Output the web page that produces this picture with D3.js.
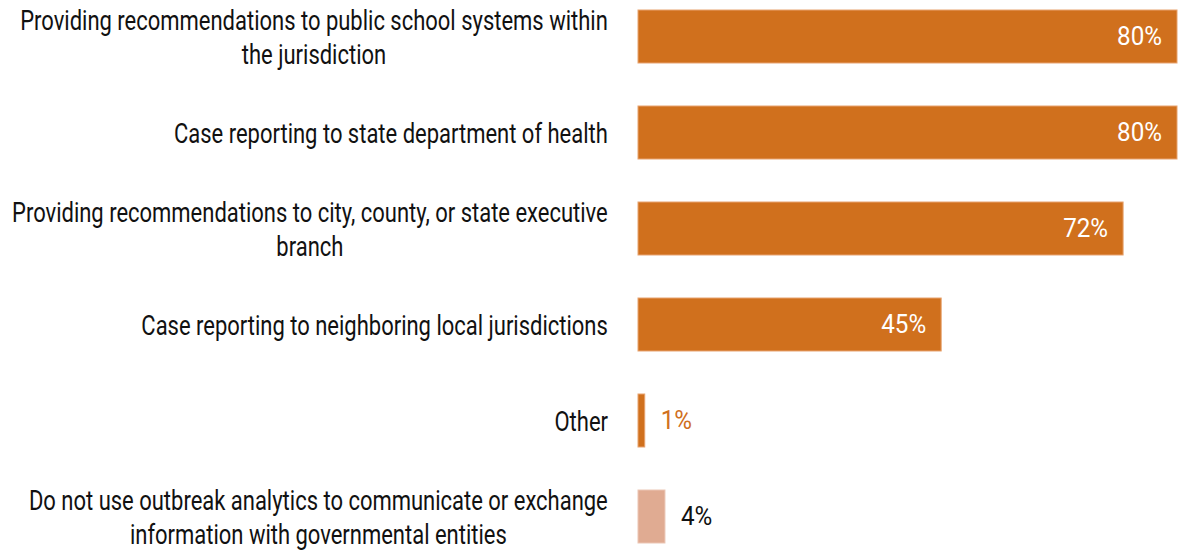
<!DOCTYPE html>
<html>
<head>
<meta charset="utf-8">
<script src="https://cdn.jsdelivr.net/npm/d3@7"></script>
<style>
  html, body { margin: 0; padding: 0; background: #fff; }
  svg { display: block; }
  .lbl { font-family: Roboto, "Noto Sans", sans-serif; }
</style>
</head>
<body>
<svg id="chart" width="1178" height="552"></svg>
<script>
// Category labels (line breaks marked with "\n")
const categories = [
  "Providing recommendations to public school systems within\nthe jurisdiction",
  "Case reporting to state department of health",
  "Providing recommendations to city, county, or state executive\nbranch",
  "Case reporting to neighboring local jurisdictions",
  "Other",
  "Do not use outbreak analytics to communicate or exchange\ninformation with governmental entities"
];
// Share of respondents (%)
const values = [80, 80, 72, 45, 1, 4];
const valueLabels = ["80%", "80%", "72%", "45%", "1%", "4%"];
const barFill = ["#D0701D", "#D0701D", "#D0701D", "#D0701D", "#D0701D", "#E0AB92"];

const svg = d3.select("#chart");
const x0 = 638;
const labelRight = 608;
const longestLineWidth = 588;   // target width of the widest label line
const valueLabelWidth = 45;     // target width of an "80%" value label
const catSize = 28, valSize = 25;

const x = d3.scaleLinear().domain([0, 80]).range([x0, 1177]);
const y = d3.scaleBand()
  .domain(d3.range(categories.length))
  .range([-11.5, 564.5])
  .paddingInner(0.448)
  .paddingOuter(0.224);

const data = categories.map((c, i) => ({ c, v: values[i], t: valueLabels[i], f: barFill[i], i }));

// Text measurement helper
function measure(str, size) {
  const p = svg.append("text").attr("class", "lbl").attr("font-size", size).text(str);
  const w = p.node().getComputedTextLength();
  p.remove();
  return w;
}
// Condensed horizontal scales for category and value text
const sx = longestLineWidth / measure(categories[0].split("\n")[0], catSize);
const sxv = valueLabelWidth / measure(valueLabels[0], valSize);

const rows = svg.selectAll("g.row")
  .data(data)
  .join("g")
  .attr("class", "row");

rows.append("rect")
  .attr("x", x(0))
  .attr("y", d => y(d.i))
  .attr("width", d => x(d.v) - x(0))
  .attr("height", y.bandwidth())
  .attr("fill", d => d.f)
  .attr("stroke", d => d.i === 5 ? "#EBC6B4" : "#E7A36F")
  .attr("stroke-width", 1);

// Category labels: block right-aligned against the bars, lines centred within the block
const lineH = 34;
rows.each(function(d) {
  const lines = d.c.split("\n");
  const blockW = d3.max(lines, ln => measure(ln, catSize)) * sx;
  const cx = labelRight - blockW / 2;
  const cy = y(d.i) + y.bandwidth() / 2;
  const t = d3.select(this).append("text")
    .attr("class", "lbl")
    .attr("text-anchor", "middle")
    .attr("font-size", catSize)
    .attr("fill", "#111")
    .attr("transform", `translate(${cx},0) scale(${sx},1)`);
  lines.forEach((ln, k) => {
    t.append("tspan")
      .attr("x", 0)
      .attr("y", cy + (k - (lines.length - 1) / 2) * lineH)
      .attr("dy", "0.36em")
      .text(ln);
  });
});

// Value labels: inside the bar when it is wide, beside it otherwise
const inside = d => x(d.v) - x(0) > 60;
rows.append("text")
  .attr("class", "lbl")
  .attr("font-size", valSize)
  .attr("dy", "0.36em")
  .attr("y", d => y(d.i) + y.bandwidth() / 2)
  .attr("x", 0)
  .attr("transform", d => `translate(${inside(d) ? x(d.v) - 15 : x(d.v) + 16},0) scale(${sxv},1)`)
  .attr("text-anchor", d => inside(d) ? "end" : "start")
  .attr("fill", d => inside(d) ? "#fff" : (d.i === 4 ? "#D0701D" : "#111"))
  .text(d => d.t);
</script>
</body>
</html>
